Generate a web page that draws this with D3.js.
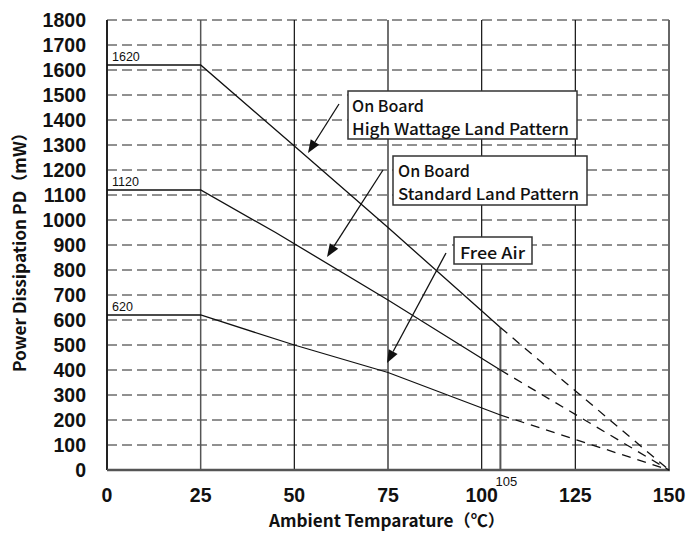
<!DOCTYPE html>
<html><head><meta charset="utf-8">
<script src="https://cdn.jsdelivr.net/npm/d3@7"></script>
<style>body{margin:0;background:#fff}svg{display:block}</style>
</head><body>
<script>
// ---- data ----
const yTicks = [0,100,200,300,400,500,600,700,800,900,1000,1100,1200,1300,1400,1500,1600,1700,1800];
const xTicks = [0,25,50,75,100,125,150];
const vGrid = [25,50,75,100,125];
const highWattage = [[0,1620],[25,1620],[50,1296],[75,970],[105,570]];
const standard = [[0,1120],[25,1120],[45,950],[75,680],[105,400]];
const freeAir = [[0,620],[25,620],[50,500],[75,390],[105,220]];
const endPoint = [150,0];
const startLabels = [{v:1620,t:"1620"},{v:1120,t:"1120"},{v:620,t:"620"}];
const breakTemp = 105;

const W=688,H=533;
const svg=d3.select("body").append("svg").attr("width",W).attr("height",H);
const x=d3.scaleLinear().domain([0,150]).range([107,669]);
const y=d3.scaleLinear().domain([0,1800]).range([470,20]);
const num="'Liberation Sans',Arial,sans-serif";
const jp="'Noto Sans CJK JP','Noto Sans',sans-serif";

// horizontal dashed grid
svg.append("g").selectAll("line").data(yTicks.filter(d=>d>0)).join("line")
  .attr("x1",x(0)).attr("x2",x(150)).attr("y1",d=>y(d)).attr("y2",d=>y(d))
  .attr("stroke","#222").attr("stroke-width",1).attr("stroke-dasharray","10,5");
// vertical solid grid
svg.append("g").selectAll("line").data(vGrid).join("line")
  .attr("x1",d=>x(d)).attr("x2",d=>x(d)).attr("y1",y(0)).attr("y2",y(1800))
  .attr("stroke",d=>d===25?"#555":"#111").attr("stroke-width",d=>d===25?1.5:1.2);
// 105 line from high wattage break to axis
const hwBreak = highWattage[highWattage.length-1][1];
svg.append("line").attr("x1",x(breakTemp)).attr("x2",x(breakTemp)).attr("y1",y(hwBreak)).attr("y2",y(0))
  .attr("stroke","#555").attr("stroke-width",2);
// borders
svg.append("line").attr("x1",x(0)).attr("x2",x(0)).attr("y1",y(0)).attr("y2",y(1800)).attr("stroke","#222").attr("stroke-width",2);
svg.append("line").attr("x1",x(150)).attr("x2",x(150)).attr("y1",y(0)).attr("y2",y(1800)).attr("stroke","#666").attr("stroke-width",2);
svg.append("line").attr("x1",x(0)).attr("x2",x(150)+1).attr("y1",y(0)).attr("y2",y(0)).attr("stroke","#555").attr("stroke-width",2.5);

// curves
const line=d3.line().x(d=>x(d[0])).y(d=>y(d[1]));
[highWattage,standard,freeAir].forEach(s=>{
  svg.append("path").attr("d",line(s)).attr("fill","none").attr("stroke","#111").attr("stroke-width",1.3);
  svg.append("path").attr("d",line([s[s.length-1],endPoint])).attr("fill","none")
    .attr("stroke","#111").attr("stroke-width",1.3).attr("stroke-dasharray","9,7");
});
// start labels
svg.append("g").selectAll("text").data(startLabels).join("text")
  .attr("x",x(0)+5).attr("y",d=>y(d.v)-4).text(d=>d.t)
  .attr("font-family",num).attr("font-size",12.5).attr("fill","#111");

// y ticks
svg.append("g").selectAll("text").data(yTicks).join("text")
  .attr("x",86).attr("y",d=>y(d)).attr("dy","0.36em").attr("text-anchor","end").text(d=>d)
  .attr("font-family",num).attr("font-weight","bold").attr("font-size",19.5).attr("fill","#111");
// x ticks
svg.append("g").selectAll("text").data(xTicks).join("text")
  .attr("x",d=>x(d)).attr("y",502).attr("text-anchor","middle").text(d=>d)
  .attr("font-family",num).attr("font-weight","bold").attr("font-size",19.5).attr("fill","#111");
svg.append("text").attr("x",x(breakTemp)+6).attr("y",486).attr("text-anchor","middle").text(breakTemp)
  .attr("font-family",num).attr("font-size",13).attr("fill","#111");

// axis titles
svg.append("text").attr("x",387).attr("y",527).attr("text-anchor","middle")
  .attr("font-family",jp).attr("font-weight","bold").attr("font-size",16.5).attr("fill","#111")
  .attr("textLength",236).attr("lengthAdjust","spacingAndGlyphs")
  .text("Ambient Temparature（℃）");
svg.append("text").attr("transform","translate(26,248) rotate(-90)").attr("text-anchor","middle")
  .attr("font-family",jp).attr("font-weight","bold").attr("font-size",16.5).attr("fill","#111")
  .attr("textLength",248).attr("lengthAdjust","spacingAndGlyphs")
  .text("Power Dissipation  PD（mW）");

// annotations
const defs=svg.append("defs");
const notes=[
  {box:[348,91,229,48], lines:[{t:"On Board",x:352,y:112,w:72},{t:"High Wattage Land Pattern",x:352,y:135,w:217}], from:[339,104], to:[308,153]},
  {box:[393,156,194,49], lines:[{t:"On Board",x:398,y:177,w:72},{t:"Standard Land Pattern",x:398,y:200,w:181}], from:[383,170], to:[327,257]},
  {box:[454,237,78,27], lines:[{t:"Free Air",x:460,y:259,w:65}], from:[446,253], to:[387,363]}
];
notes.forEach(n=>{
  const [x1,y1]=n.from,[x2,y2]=n.to;
  const ang=Math.atan2(y2-y1,x2-x1), L=13, Wd=5;
  const bx=x2-L*Math.cos(ang), by=y2-L*Math.sin(ang);
  svg.append("line").attr("x1",x1).attr("y1",y1).attr("x2",bx).attr("y2",by).attr("stroke","#111").attr("stroke-width",1.3);
  const p=[[x2,y2],[bx+Wd*Math.sin(ang),by-Wd*Math.cos(ang)],[bx-Wd*Math.sin(ang),by+Wd*Math.cos(ang)]];
  svg.append("path").attr("d","M"+p.map(q=>q.join(",")).join("L")+"Z").attr("fill","#111");
  svg.append("rect").attr("x",n.box[0]).attr("y",n.box[1]).attr("width",n.box[2]).attr("height",n.box[3])
    .attr("fill","#fff").attr("stroke","#333").attr("stroke-width",1.5);
  n.lines.forEach(l=>{
    svg.append("text").attr("x",l.x).attr("y",l.y).text(l.t)
      .attr("font-family",jp).attr("font-weight",500).attr("font-size",16.5).attr("fill","#111")
      .attr("textLength",l.w).attr("lengthAdjust","spacingAndGlyphs");
  });
});
</script>
</body></html>
